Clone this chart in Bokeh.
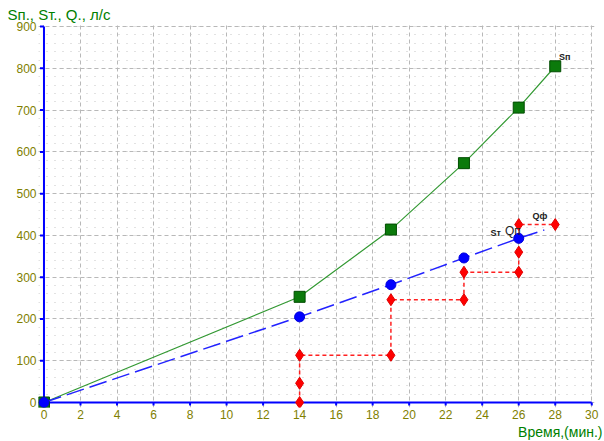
from bokeh.plotting import figure
from bokeh.models import Range1d, Label, FixedTicker, Title
from bokeh.embed import file_html
from bokeh.resources import INLINE

# ---- data ----
sn_t = [0, 14, 19, 23, 26, 28]
sn_v = [0, 253, 414, 573, 706, 805]

st_t = [0, 14, 19, 23, 26]
st_v = [0, 205, 282, 346, 393]
st_line_t = [0, 14, 19, 23, 26, 27.4]
st_line_v = [0, 205, 282, 346, 393, 413]

q_t = [14, 14, 14, 19, 19, 23, 23, 26, 26, 26, 28]
q_v = [0, 46, 113, 113, 246, 246, 312, 312, 360, 426, 426]

x_ticks = list(range(0, 31, 2))
y_ticks = list(range(0, 901, 100))

TICK_COL = "#808000"
GREEN_TXT = "#008000"
AX_BLUE = "#0000ff"
FONT = "Liberation Sans"

p = figure(width=604, height=441, output_backend="svg", toolbar_location=None,
           x_range=Range1d(-0.3, 30.15), y_range=Range1d(-12, 905),
           min_border_left=38, min_border_right=10, min_border_top=24,
           min_border_bottom=34)
p.outline_line_color = None
p.background_fill_color = "white"
p.border_fill_color = "white"

# y title at the top (as plot title)
p.title.text = "Sп., Sт., Q., л/с"
p.title.align = "left"
p.title.offset = -31
p.title.standoff = 4
p.title.text_font = FONT
p.title.text_font_size = "15px"
p.title.text_font_style = "normal"
p.title.text_color = GREEN_TXT

# axes (labels only)
for ax in (p.xaxis[0], p.yaxis[0]):
    ax.axis_line_color = None
    ax.major_tick_out = 0
    ax.major_tick_in = 0
    ax.minor_tick_out = 0
    ax.minor_tick_in = 0
    ax.major_label_text_color = TICK_COL
    ax.major_label_text_font = FONT
    ax.major_label_text_font_size = "12px"
p.xaxis[0].ticker = FixedTicker(ticks=x_ticks)
p.yaxis[0].ticker = FixedTicker(ticks=y_ticks,
                                minor_ticks=list(range(-20, 905, 20)))
p.xaxis[0].major_label_standoff = 2
p.yaxis[0].major_label_standoff = 2

# x title (bottom right)
p.add_layout(Title(text="Время,(мин.)", align="right", text_font=FONT,
                   text_font_size="14px", text_font_style="normal",
                   text_color=GREEN_TXT, standoff=0, offset=-8), "below")

# grids
p.xgrid.grid_line_color = "#b8b8b8"
p.xgrid.grid_line_dash = "4 3"
p.ygrid.grid_line_color = "#b8b8b8"
p.ygrid.grid_line_dash = "4 3"
p.ygrid.minor_grid_line_color = "#c4c4c4"
p.ygrid.minor_grid_line_dash = "1 7"

# axis lines and ticks
p.segment(x0=[0, 0], y0=[0, 0], x1=[0, x_ticks[-1]], y1=[y_ticks[-1], 0],
          line_color=AX_BLUE, line_width=2)
p.segment(x0=[-0.22] * len(y_ticks), y0=y_ticks, x1=[0] * len(y_ticks), y1=y_ticks,
          line_color=AX_BLUE, line_width=2)
p.segment(x0=x_ticks, y0=[-7] * len(x_ticks), x1=x_ticks, y1=[0] * len(x_ticks),
          line_color=AX_BLUE, line_width=2)

# Q (red, dotted step)
p.line(q_t, q_v, line_color="#ff2020", line_width=1.5, line_dash="4 3")
p.scatter(q_t, q_v, marker="diamond", size=12, fill_color="#ff0000",
          line_color="#e00000")

# Sn (green)
p.line(sn_t, sn_v, line_color="#339933", line_width=1.2)
p.scatter(sn_t, sn_v, marker="square", size=11, fill_color="#0b7a0b",
          line_color="#004d00")

# St (blue dashed)
p.line(st_line_t, st_line_v, line_color="#2222ff", line_width=1.5, line_dash="18 6")
p.scatter(st_t, st_v, marker="circle", size=10, fill_color="#0000ff",
          line_color="#0000dd")

# labels near series
p.add_layout(Label(x=28.2, y=828, text="Sп", text_font=FONT, text_font_size="9px",
                   text_font_style="bold", text_color="#222222",
                   text_baseline="middle"))
p.add_layout(Label(x=26.75, y=447, text="Qф", text_font=FONT, text_font_size="9px",
                   text_font_style="bold", text_color="#222222",
                   text_baseline="middle"))
p.add_layout(Label(x=24.45, y=405, text="Sт", text_font=FONT, text_font_size="9px",
                   text_font_style="bold", text_color="#222222",
                   text_baseline="middle"))
p.add_layout(Label(x=25.25, y=410, text="Qп", text_font=FONT, text_font_size="12px",
                   text_color="#222222", text_baseline="middle"))

open("out.html", "w").write(file_html(p, INLINE))
